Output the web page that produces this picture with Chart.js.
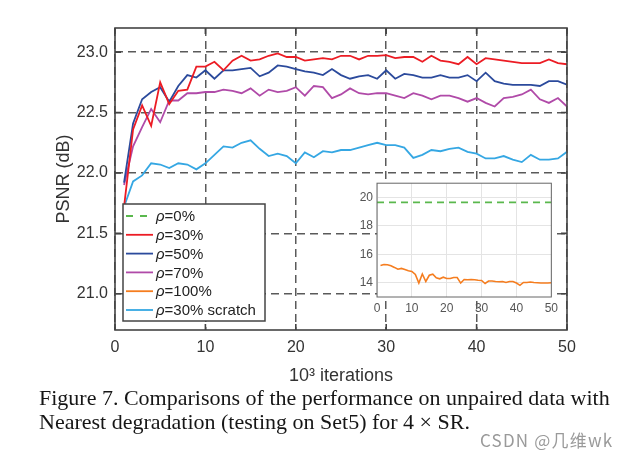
<!DOCTYPE html>
<html>
<head>
<meta charset="utf-8">
<script src="https://cdn.jsdelivr.net/npm/chart.js@4.4.1/dist/chart.umd.min.js"></script>
<style>
  body { margin: 0; background: #fff; }
  #wrap { position: relative; width: 632px; height: 459px; overflow: hidden; }
  #main { position: absolute; left: 0; top: 0; }
  #inset { position: absolute; left: 345px; top: 172px; }
  .cap { position: absolute; left: 39px; font: 22px "Liberation Serif", serif; line-height: 24px; color: #161616; white-space: nowrap; }
  .mark { position: absolute; left: 480px; top: 430px; font: 17px "Noto Sans CJK SC", sans-serif; letter-spacing: 1.2px; line-height: 20px; color: #9a9a9a; white-space: nowrap; }
</style>
</head>
<body>
<div id="wrap">
  <canvas id="main" width="632" height="392"></canvas>
  <canvas id="inset" width="217" height="147"></canvas>
  <div class="cap" style="top:386px">Figure 7. Comparisons of the performance on unpaired data with</div>
  <div class="cap" style="top:410px">Nearest degradation (testing on Set5) for 4 &times; SR.</div>
  <div class="mark">CSDN @几维wk</div>
</div>
<script>
// x positions (10^3 iterations)
const iterations = [1, 2, 3, 4, 5, 6, 7, 8, 9, 10, 11, 12, 13, 14, 15, 16, 17, 18, 19, 20,
  21, 22, 23, 24, 25, 26, 27, 28, 29, 30, 31, 32, 33, 34, 35, 36, 37, 38, 39, 40,
  41, 42, 43, 44, 45, 46, 47, 48, 49, 50];

// PSNR (dB)
const rho30 = [21.72, 22.36, 22.56, 22.39, 22.75, 22.57, 22.68, 22.69, 22.88, 22.88,
  22.92, 22.85, 22.93, 22.97, 22.93, 22.94, 22.97, 22.99, 22.96, 22.96,
  22.93, 22.94, 22.95, 22.94, 22.97, 22.97, 22.94, 22.97, 22.97, 22.975,
  22.95, 22.96, 22.96, 22.92, 22.97, 22.93, 22.92, 22.90, 22.96, 22.90,
  22.95, 22.94, 22.93, 22.92, 22.91, 22.91, 22.91, 22.94, 22.91, 22.90];
const rho50 = [21.92, 22.41, 22.61, 22.67, 22.71, 22.59, 22.72, 22.81, 22.79, 22.85,
  22.78, 22.85, 22.85, 22.86, 22.87, 22.80, 22.83, 22.89, 22.88, 22.86,
  22.84, 22.83, 22.81, 22.86, 22.81, 22.78, 22.80, 22.81, 22.78, 22.85,
  22.78, 22.82, 22.81, 22.79, 22.79, 22.81, 22.79, 22.79, 22.81, 22.76,
  22.83, 22.76, 22.74, 22.73, 22.73, 22.73, 22.72, 22.76, 22.76, 22.73];
const rho70 = [21.90, 22.22, 22.38, 22.53, 22.42, 22.60, 22.60, 22.66, 22.66, 22.67,
  22.67, 22.69, 22.68, 22.66, 22.70, 22.64, 22.69, 22.67, 22.68, 22.71,
  22.64, 22.72, 22.71, 22.62, 22.65, 22.70, 22.66, 22.65, 22.66, 22.66,
  22.64, 22.62, 22.66, 22.64, 22.61, 22.64, 22.64, 22.62, 22.59, 22.62,
  22.58, 22.55, 22.62, 22.63, 22.65, 22.69, 22.61, 22.58, 22.62, 22.55];
const rho30Scratch = [21.72, 21.93, 21.98, 22.08, 22.07, 22.04, 22.08, 22.07, 22.03, 22.08,
  22.15, 22.22, 22.21, 22.25, 22.27, 22.20, 22.14, 22.16, 22.14, 22.08,
  22.17, 22.13, 22.18, 22.17, 22.19, 22.19, 22.21, 22.23, 22.25, 22.23,
  22.23, 22.21, 22.125, 22.15, 22.19, 22.18, 22.20, 22.21, 22.175, 22.16,
  22.12, 22.12, 22.14, 22.11, 22.09, 22.15, 22.11, 22.11, 22.12, 22.175];
const rho100 = [15.22, 15.28, 15.27, 15.20, 15.08, 14.95, 15.01, 14.93, 14.84, 14.80,
  14.58, 13.98, 14.62, 14.09, 14.53, 14.60, 14.35, 14.28, 14.39, 14.30,
  14.30, 14.37, 14.37, 13.98, 14.23, 14.21, 14.23, 14.21, 14.18, 14.16,
  13.95, 14.12, 14.12, 14.09, 14.07, 14.09, 14.02, 14.09, 14.09, 13.98,
  13.82, 14.02, 14.02, 14.05, 14.02, 14.00, 13.98, 13.98, 13.98, 14.00];
// rho=0% is flat across the inset
const rho0X = [0, 50];
const rho0 = [19.65, 19.65];

const mainXTicks = [0, 10, 20, 30, 40, 50];
const mainYTicks = [21.0, 21.5, 22.0, 22.5, 23.0];
const insetXTicks = [0, 10, 20, 30, 40, 50];
const insetYTicks = [14, 16, 18, 20];

const legendLabels = ['=0%', '=30%', '=50%', '=70%', '=100%', '=30% scratch'];
const legendColors = ['#5ab84d', '#ec1c24', '#2b4a9c', '#b04aa8', '#f57d1f', '#35a7e3'];

Chart.defaults.font.family = '"Liberation Sans", Arial, sans-serif';
Chart.defaults.animation = false;

const pts = (xs, ys) => ys.map((v, i) => ({ x: xs[i], y: v }));

function line(label, xs, ys, color, width, dash) {
  return {
    label: label,
    data: pts(xs, ys),
    borderColor: color,
    borderWidth: width,
    borderDash: dash || [],
    pointRadius: 0,
    tension: 0,
    fill: false
  };
}

// box around the plot with inward ticks
const framePlugin = {
  id: 'frame',
  afterDatasetsDraw(chart, args, opts) {
    const { ctx, chartArea: a, scales } = chart;
    ctx.save();
    ctx.strokeStyle = opts.color;
    ctx.lineWidth = opts.width;
    ctx.strokeRect(a.left, a.top, a.right - a.left, a.bottom - a.top);
    if (opts.tick) {
      ctx.beginPath();
      scales.x.ticks.forEach(t => {
        const px = scales.x.getPixelForValue(t.value);
        ctx.moveTo(px, a.bottom); ctx.lineTo(px, a.bottom - opts.tick);
        ctx.moveTo(px, a.top); ctx.lineTo(px, a.top + opts.tick);
      });
      scales.y.ticks.forEach(t => {
        const py = scales.y.getPixelForValue(t.value);
        ctx.moveTo(a.left, py); ctx.lineTo(a.left + opts.tick, py);
        ctx.moveTo(a.right, py); ctx.lineTo(a.right - opts.tick, py);
      });
      ctx.stroke();
    }
    ctx.restore();
  }
};

const bgPlugin = {
  id: 'plotBg',
  beforeDraw(chart) {
    const { ctx, chartArea: a } = chart;
    ctx.save();
    ctx.fillStyle = '#fff';
    ctx.fillRect(a.left, a.top, a.right - a.left, a.bottom - a.top);
    ctx.restore();
  }
};

const legendPlugin = {
  id: 'boxLegend',
  afterDraw(chart) {
    const ctx = chart.ctx;
    const x0 = 123, y0 = 204, w = 142, h = 117;
    ctx.save();
    ctx.fillStyle = '#fff';
    ctx.fillRect(x0, y0, w, h);
    ctx.strokeStyle = '#444';
    ctx.lineWidth = 1.5;
    ctx.strokeRect(x0, y0, w, h);
    legendLabels.forEach((label, i) => {
      const y = y0 + 12 + i * 18.8;
      ctx.strokeStyle = legendColors[i];
      ctx.lineWidth = 1.8;
      ctx.setLineDash(i === 0 ? [7, 7] : []);
      ctx.beginPath();
      ctx.moveTo(x0 + 3, y);
      ctx.lineTo(x0 + (i === 0 ? 25 : 30), y);
      ctx.stroke();
      ctx.setLineDash([]);
      ctx.fillStyle = '#222';
      ctx.textBaseline = 'middle';
      ctx.font = 'italic 15px "Liberation Sans"';
      ctx.fillText('\u03c1', x0 + 33, y + 1);
      const pw = ctx.measureText('\u03c1').width;
      ctx.font = '15px "Liberation Sans"';
      ctx.fillText(label, x0 + 33 + pw, y + 1);
    });
    ctx.restore();
  }
};

new Chart(document.getElementById('main'), {
  type: 'line',
  data: {
    datasets: [
      line('\u03c1=30%', iterations, rho30, legendColors[1], 1.8),
      line('\u03c1=50%', iterations, rho50, legendColors[2], 1.8),
      line('\u03c1=70%', iterations, rho70, legendColors[3], 1.8),
      line('\u03c1=30% scratch', iterations, rho30Scratch, legendColors[5], 1.8)
    ]
  },
  options: {
    responsive: false,
    layout: { padding: { left: 48, right: 65, top: 28, bottom: 0 } },
    plugins: {
      legend: { display: false },
      tooltip: { enabled: false },
      frame: { color: '#444', width: 1.6, tick: 6 }
    },
    scales: {
      x: {
        type: 'linear', min: 0, max: 50,
        afterBuildTicks: s => { s.ticks = mainXTicks.map(v => ({ value: v })); },
        afterFit: s => { s.height = 62; },
        grid: { color: '#5a5a5a', lineWidth: 1.5, drawTicks: false },
        border: { display: false, dash: [8, 5] },
        ticks: { padding: 8, color: '#333', font: { size: 16 }, maxRotation: 0 },
        title: { display: true, text: '10\u00b3 iterations', color: '#333', font: { size: 18 }, padding: { top: 0, bottom: 5 } }
      },
      y: {
        min: 20.7, max: 23.2,
        afterBuildTicks: s => { s.ticks = mainYTicks.map(v => ({ value: v })); },
        afterFit: s => { s.width = 67; },
        grid: { color: '#5a5a5a', lineWidth: 1.5, drawTicks: false },
        border: { display: false, dash: [8, 5] },
        ticks: { padding: 7, color: '#333', font: { size: 16 }, callback: v => v.toFixed(1) },
        title: { display: true, text: 'PSNR (dB)', color: '#333', font: { size: 18 }, padding: { top: 5, bottom: 0 } }
      }
    }
  },
  plugins: [framePlugin, legendPlugin]
});

new Chart(document.getElementById('inset'), {
  type: 'line',
  data: {
    datasets: [
      line('\u03c1=0%', rho0X, rho0, legendColors[0], 1.6, [7, 5]),
      line('\u03c1=100%', iterations, rho100, legendColors[4], 1.6)
    ]
  },
  options: {
    responsive: false,
    layout: { padding: { left: 0, right: 10, top: 10, bottom: 0 } },
    plugins: {
      legend: { display: false },
      tooltip: { enabled: false },
      frame: { color: '#666', width: 1, tick: 0 }
    },
    scales: {
      x: {
        type: 'linear', min: 0, max: 50,
        afterBuildTicks: s => { s.ticks = insetXTicks.map(v => ({ value: v })); },
        afterFit: s => { s.height = 22; },
        grid: { color: '#e4e4e4', lineWidth: 1, drawTicks: false },
        border: { display: false },
        ticks: { padding: 4, color: '#555', font: { size: 12 }, maxRotation: 0 }
      },
      y: {
        min: 13, max: 21,
        afterBuildTicks: s => { s.ticks = insetYTicks.map(v => ({ value: v })); },
        afterFit: s => { s.width = 32; },
        grid: { color: '#e4e4e4', lineWidth: 1, drawTicks: false },
        border: { display: false },
        ticks: { padding: 4, color: '#555', font: { size: 12 } }
      }
    }
  },
  plugins: [bgPlugin, framePlugin]
});
</script>
</body>
</html>
